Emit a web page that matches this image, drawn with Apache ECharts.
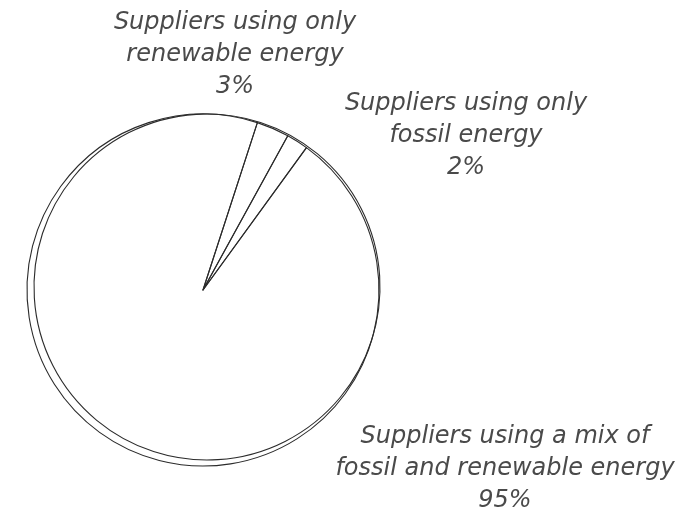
<!DOCTYPE html>
<html>
<head>
<meta charset="utf-8">
<script src="https://cdn.jsdelivr.net/npm/echarts@6/dist/echarts.min.js"></script>
<style>
  html, body { margin: 0; padding: 0; background: #fff; }
  #chart { width: 695px; height: 509px; }
</style>
</head>
<body>
<div id="chart"></div>
<script>
// Supplier energy mix shares (percent)
const categories = [
  'Suppliers using only\nrenewable energy',
  'Suppliers using only\nfossil energy',
  'Suppliers using a mix of\nfossil and renewable energy'
];
const shares = [3, 2, 95];

// Where each slice caption sits (pixel centre of the text block)
const labelSpots = [
  [235, 55],
  [466, 136],
  [505, 469]
];

const ink = '#2b2b2b';
const labelFont = {
  fontFamily: '"DejaVu Sans", sans-serif',
  fontStyle: 'italic',
  fontWeight: 200,
  fontSize: 24,
  lineHeight: 32,
  color: '#4a4a4a'
};

const chart = echarts.init(document.getElementById('chart'), null, { renderer: 'canvas' });

const total = shares.reduce((a, b) => a + b, 0);

chart.setOption({
  backgroundColor: '#fff',
  animation: false,
  series: [
    {
      // second, slightly offset outline for the sketched look
      type: 'pie',
      silent: true,
      center: [207, 287],
      radius: [0, 173],
      startAngle: 72,
      label: { show: false },
      labelLine: { show: false },
      itemStyle: { color: 'rgba(0,0,0,0)', borderColor: ink, borderWidth: 1.1 },
      data: [{ name: 'outline', value: total }],
      z: 1
    },
    {
      type: 'pie',
      center: [203, 290],
      radius: [0, 176],
      startAngle: 72,
      clockwise: true,
      avoidLabelOverlap: false,
      label: Object.assign({
        show: true,
        position: 'outside',
        formatter: '{b}\n{c}%',
        align: 'center'
      }, labelFont),
      labelLine: { show: false },
      labelLayout: function (params) {
        const p = labelSpots[params.dataIndex];
        return { x: p[0], y: p[1], align: 'center', verticalAlign: 'middle' };
      },
      itemStyle: { color: 'rgba(255,255,255,0)', borderColor: ink, borderWidth: 1.1 },
      emphasis: { disabled: true },
      data: categories.map((name, i) => ({ name: name, value: shares[i] })),
      z: 2
    }
  ]
});
</script>
</body>
</html>
